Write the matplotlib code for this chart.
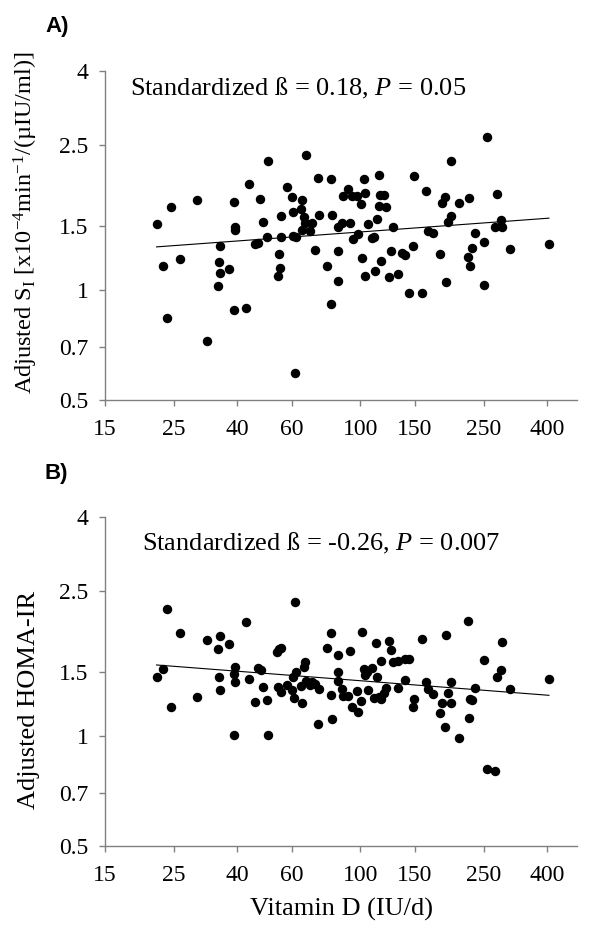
import matplotlib
matplotlib.use("Agg")
import matplotlib.pyplot as plt
import numpy as np

# panel A: vitamin D intake vs adjusted insulin sensitivity (S_I)
vitd_a = [22.0, 23.0, 23.7, 24.5, 26.1, 29.8, 31.9, 34.6, 35.0, 35.3,
          35.3, 37.6, 39.1, 39.5, 39.5, 39.1, 42.6, 43.8, 45.8, 46.6,
          47.6, 48.6, 50.1, 50.4, 54.1, 54.6, 55.0, 55.4, 55.4, 58.0,
          60.0, 60.8, 60.8, 62.0, 61.7, 64.3, 65.0, 65.0, 65.8, 66.1,
          66.8, 68.8, 70.0, 71.4, 73.2, 73.5, 78.2, 80.4, 81.2, 80.4,
          84.5, 84.9, 84.5, 87.0, 87.7, 91.4, 92.5, 93.7, 94.4, 97.3,
          98.0, 100.7, 101.4, 102.7, 103.5, 103.5, 106.1, 108.7, 110.6, 111.4,
          112.8, 115.1, 115.7, 115.1, 116.5, 119.2, 120.9, 123.7, 125.2, 127.1,
          132.6, 136.6, 138.9, 143.8, 148.2, 148.9, 158.0, 162.4, 164.8, 171.9,
          180.6, 182.9, 187.5, 188.4, 191.2, 195.5, 195.5, 208.5, 222.9, 224.6,
          226.2, 229.6, 234.2, 250.5, 250.5, 255.5, 271.8, 275.1, 283.5, 285.6,
          303.8, 405.9]
si_a = [1.518, 1.169, 0.841, 1.690, 1.219, 1.770, 0.724, 1.028, 1.194, 1.327,
        1.118, 1.142, 1.745, 1.492, 1.467, 0.882, 0.893, 1.958, 1.344, 1.352,
        1.785, 1.540, 1.404, 2.261, 1.095, 1.258, 1.154, 1.597, 1.404, 1.926,
        1.808, 1.645, 1.407, 1.401, 0.593, 1.672, 1.770, 1.464, 1.587, 1.528,
        2.348, 1.452, 1.528, 1.291, 2.030, 1.611, 1.166, 2.021, 1.611, 0.919,
        1.496, 1.285, 1.061, 1.528, 1.816, 1.897, 1.534, 1.816, 1.384, 1.816,
        1.425, 1.730, 1.225, 2.026, 1.854, 1.093, 1.518, 1.389, 1.404, 1.128,
        1.573, 2.078, 1.827, 1.704, 1.204, 1.827, 1.690, 1.086, 1.285, 1.492,
        1.111, 1.269, 1.248, 0.986, 1.321, 2.056, 0.986, 1.874, 1.458, 1.434,
        1.258, 1.734, 1.808, 1.054, 1.544, 1.600, 2.265, 1.737, 1.237, 1.793,
        1.166, 1.307, 1.434, 1.357, 1.037, 2.630, 1.496, 1.835, 1.560, 1.489,
        1.301, 1.338]
fit_x_a = [22.0, 405.9]
fit_y_a = [1.316, 1.578]

# panel B: vitamin D intake vs adjusted HOMA-IR
vitd_b = [22.0, 23.0, 23.7, 24.5, 26.1, 29.8, 31.9, 34.6, 35.0, 35.3,
          35.3, 37.6, 39.1, 39.1, 39.5, 39.5, 42.6, 43.8, 45.8, 46.6,
          47.8, 48.6, 50.1, 50.4, 53.7, 54.6, 55.4, 54.1, 55.4, 58.0,
          60.0, 60.8, 61.1, 61.7, 62.0, 64.3, 65.0, 65.8, 66.1, 66.8,
          68.8, 70.0, 71.4, 73.2, 73.5, 78.2, 80.4, 80.4, 81.2, 84.5,
          84.9, 84.9, 87.0, 87.7, 91.4, 92.5, 93.7, 97.3, 98.0, 100.7,
          101.4, 102.7, 103.5, 104.8, 106.1, 108.7, 110.6, 112.0, 112.8, 115.1,
          116.5, 116.5, 119.2, 120.9, 123.7, 125.2, 127.1, 132.6, 132.6, 138.9,
          138.9, 143.8, 148.2, 148.9, 158.0, 162.4, 164.8, 171.9, 180.6, 182.9,
          187.5, 188.4, 191.2, 195.5, 195.5, 208.5, 222.9, 224.6, 226.2, 229.6,
          234.2, 250.5, 255.5, 271.8, 275.1, 283.5, 285.6, 303.8, 405.9]
homa_b = [1.455, 1.531, 2.237, 1.204, 1.926, 1.283, 1.839, 1.741, 1.455, 1.889,
          1.338, 1.793, 1.009, 1.480, 1.553, 1.407, 2.060, 1.437, 1.245, 1.537,
          1.524, 1.366, 1.256, 1.009, 1.700, 1.733, 1.751, 1.366, 1.327, 1.386,
          1.341, 1.458, 1.272, 2.343, 1.499, 1.377, 1.237, 1.553, 1.603, 1.422,
          1.380, 1.407, 1.389, 1.084, 1.352, 1.745, 1.926, 1.299, 1.114, 1.672,
          1.499, 1.416, 1.349, 1.291, 1.291, 1.715, 1.204, 1.332, 1.166, 1.253,
          1.938, 1.531, 1.474, 1.502, 1.341, 1.540, 1.277, 1.808, 1.452, 1.285,
          1.610, 1.264, 1.313, 1.355, 1.827, 1.726, 1.600, 1.355, 1.607, 1.428,
          1.627, 1.631, 1.204, 1.264, 1.847, 1.407, 1.346, 1.310, 1.157, 1.232,
          1.059, 1.897, 1.318, 1.407, 1.232, 0.988, 2.073, 1.121, 1.269, 1.261,
          1.360, 1.617, 0.812, 0.802, 1.458, 1.524, 1.816, 1.349, 1.434]
fit_x_b = [22.0, 405.9]
fit_y_b = [1.570, 1.296]

x_ticks = [15, 25, 40, 60, 100, 150, 250, 400]
y_ticks = [0.5, 0.7, 1, 1.5, 2.5, 4]

plt.rcParams["font.family"] = ["Liberation Serif", "DejaVu Serif"]
plt.rcParams["mathtext.fontset"] = "custom"
plt.rcParams["mathtext.rm"] = "Liberation Serif"
plt.rcParams["mathtext.it"] = "Liberation Serif:italic"

AX_GRAY = "#808080"


def style_axes(ax):
    ax.set_xscale("log")
    ax.set_yscale("log")
    ax.set_xlim(15, 500)
    ax.set_ylim(0.5, 4)
    ax.set_xticks(x_ticks, [str(t) for t in x_ticks])
    ax.set_yticks(y_ticks, [f"{t:g}" for t in y_ticks])
    ax.minorticks_off()
    for side in ["top", "right"]:
        ax.spines[side].set_visible(False)
    for side in ["left", "bottom"]:
        ax.spines[side].set_color(AX_GRAY)
        ax.spines[side].set_linewidth(1.0)
    ax.tick_params(axis="both", direction="out", length=4, width=1.0,
                   color=AX_GRAY, labelsize=17)
    ax.tick_params(axis="x", pad=10)
    ax.tick_params(axis="y", pad=8)


def draw_panel(ax, x, y, fx, fy, ylabel, lsize, ly, letter, fig_ly):
    ax.plot(x, y, "o", color="black", markersize=5.8, linestyle="none")
    ax.plot(fx, fy, color="black", linewidth=0.8)
    style_axes(ax)
    ax.set_ylabel(ylabel, fontsize=lsize)
    ax.yaxis.set_label_coords(-0.138, ly)
    fig.text(45 / 600, fig_ly, letter, fontsize=16, fontweight="bold",
             family="Liberation Sans", va="top", ha="left")


fig = plt.figure(figsize=(6, 9.41), dpi=100)
ax_a = fig.add_axes([105 / 600, 1 - 400 / 941, 472 / 600, 329 / 941])
ax_b = fig.add_axes([105 / 600, 1 - 846 / 941, 472 / 600, 329 / 941])

draw_panel(ax_a, vitd_a, si_a, fit_x_a, fit_y_a,
           r"Adjusted S$_\mathrm{I}$ [x10$^{-4}$min$^{-1}$/(µIU/ml)]",
           17.5, 0.54, "A)", 1 - 16 / 941)
draw_panel(ax_b, vitd_b, homa_b, fit_x_b, fit_y_b,
           "Adjusted HOMA-IR", 19, 0.444, "B)", 1 - 463 / 941)

fig.text(130 / 600, 1 - 95 / 941, r"Standardized ß = 0.18, $P$ = 0.05",
         fontsize=19, va="baseline")
fig.text(142 / 600, 1 - 550 / 941, r"Standardized ß = -0.26, $P$ = 0.007",
         fontsize=19, va="baseline")

ax_b.set_xlabel("Vitamin D (IU/d)", fontsize=19, labelpad=8)

fig.savefig("out.png", dpi=100)
